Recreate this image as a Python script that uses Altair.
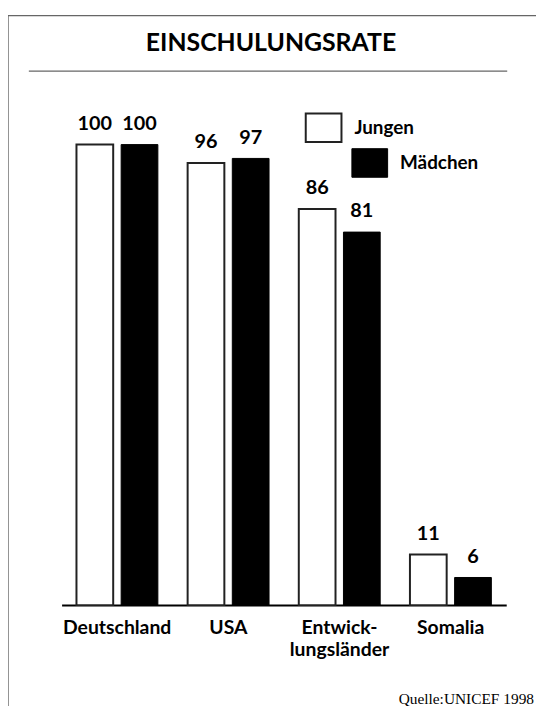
import altair as alt
import pandas as pd

# ---- data ----
laender = ["Deutschland", "USA", "Entwick-\nlungsländer", "Somalia"]
gruppen = ["Jungen", "Mädchen"]
jungen = [100, 96, 86, 11]
maedchen = [100, 97, 81, 6]
titel = "EINSCHULUNGSRATE"
quelle = "Quelle:UNICEF 1998"

rows = []
for i, land in enumerate(laender):
    rows.append({"land": land, "gruppe": "Jungen", "wert": jungen[i]})
    rows.append({"land": land, "gruppe": "Mädchen", "wert": maedchen[i]})
df = pd.DataFrame(rows)

FONT = "Lato"
W, H = 448, 464

x_enc = alt.X("land:N", sort=laender, title=None,
              scale=alt.Scale(paddingInner=0, paddingOuter=0),
              axis=alt.Axis(labelExpr="split(datum.label, '\\n')", labelAngle=0,
                            ticks=False, domainColor="black", domainWidth=2,
                            labelFont=FONT, labelFontSize=19.5, labelFontWeight="bold",
                            labelColor="black", labelPadding=14, labelLineHeight=22))
xo_enc = alt.XOffset("gruppe:N", sort=gruppen,
                     scale=alt.Scale(domain=gruppen, paddingInner=0.178, paddingOuter=0.333))
y_enc = alt.Y("wert:Q", axis=None, scale=alt.Scale(domain=[0, 100], nice=False))

rect_path = "M-1,-0.8H1V0.8H-1Z"

base = alt.Chart(df)

bars_j = base.transform_filter(alt.datum.gruppe == "Jungen").mark_bar(
    stroke="#222", strokeWidth=2
).encode(
    x=x_enc, xOffset=xo_enc, y=y_enc,
    fill=alt.Fill("gruppe:N", scale=alt.Scale(domain=["Jungen"], range=["white"]),
                  legend=alt.Legend(title=None, orient="none", legendX=245, legendY=-36,
                                    symbolType=rect_path, symbolSize=1296,
                                    symbolStrokeColor="#222", symbolStrokeWidth=2,
                                    labelFont=FONT, labelFontSize=19, labelFontWeight="bold",
                                    labelColor="black", labelOffset=12, padding=0))
)

bars_m = base.transform_filter(alt.datum.gruppe == "Mädchen").mark_bar(
    stroke="black", strokeWidth=1
).encode(
    x=x_enc, xOffset=xo_enc, y=y_enc,
    fill=alt.Fill("gruppe:N", scale=alt.Scale(domain=["Mädchen"], range=["black"]),
                  legend=alt.Legend(title=None, orient="none", legendX=292, legendY=0,
                                    symbolType=rect_path, symbolSize=1296,
                                    symbolStrokeColor="black", symbolStrokeWidth=1,
                                    labelFont=FONT, labelFontSize=19, labelFontWeight="bold",
                                    labelColor="black", labelOffset=12, padding=0))
)

labels = base.mark_text(font=FONT, fontSize=20, fontWeight="bold", color="black",
                        baseline="bottom", dy=-11).encode(
    x=x_enc, xOffset=xo_enc, y=y_enc, text=alt.Text("wert:Q")
)

one = alt.Chart(pd.DataFrame({"t": [titel]}))
border = one.mark_rect(fillOpacity=0, stroke="#666", strokeWidth=1.4).encode(
    x=alt.value(-54), x2=alt.value(520), y=alt.value(-130), y2=alt.value(620))
title_txt = one.mark_text(font=FONT, fontSize=25, fontWeight="bold", color="black",
                          align="center", baseline="alphabetic").encode(
    x=alt.value(211), y=alt.value(-94), text="t:N")
underline = one.mark_rule(color="#666", strokeWidth=1.4).encode(
    x=alt.value(-33), x2=alt.value(449), y=alt.value(-74))
src = alt.Chart(pd.DataFrame({"q": [quelle]})).mark_text(
    font="Liberation Serif", fontSize=15.5, color="black", align="right",
    baseline="alphabetic").encode(x=alt.value(476), y=alt.value(564), text="q:N")

chart = alt.layer(border, title_txt, underline, bars_j, bars_m, labels, src).resolve_scale(
    fill="independent"
).properties(
    width=W, height=H,
    background="white",
    autosize=alt.AutoSizeParams(type="none"),
    padding={"left": 54, "top": 135, "right": 30, "bottom": 99},
).configure_view(stroke=None)

chart.save("out.html", embed_options={"renderer": "svg", "actions": False})
